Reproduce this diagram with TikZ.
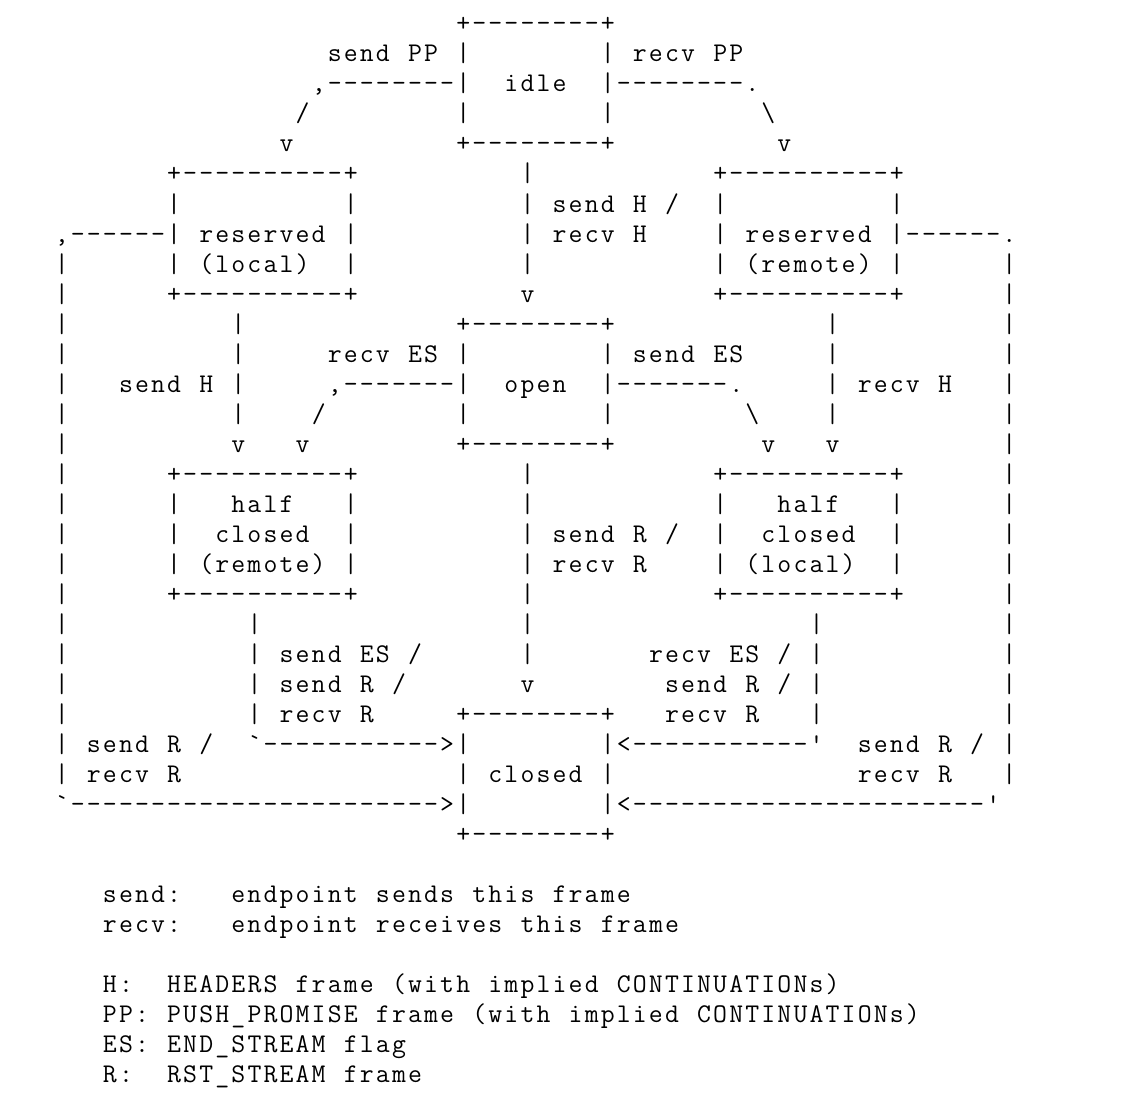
\documentclass[tikz,border=0pt]{standalone}
\newlength\cellw
\setlength\cellw{16.06pt}
\newcommand\GridLoop[1]{\ifx\relax#1\else\makebox[\cellw][c]{#1}\expandafter\GridLoop\fi}
\newcommand\Grid[1]{\GridLoop#1\relax}
\tikzset{
  txt/.style={anchor=base west, inner sep=0pt, outer sep=0pt, text=black,
    font=\ttfamily\fontsize{27}{30}\selectfont}
}
% \Run{name}{column}{line}{characters}
\newcommand\Run[4]{\node[txt] (#1) at ({16.06*#2-10.53},{32+30*#3}) {\Grid{#4}};}
\begin{document}
\begin{tikzpicture}[x=1pt,y=-1pt]
\useasboundingbox[fill=white] (0,0) rectangle (1132,1110);
% line 0-4 : idle
\Run{idleT}{29}{0}{+--------+}
\Run{sendPP}{21}{1}{send~PP}
\Run{idleLa}{29}{1}{|}
\Run{idleRa}{38}{1}{|}
\Run{recvPP}{40}{1}{recv~PP}
\Run{ppL}{20}{2}{,--------|}
\Run{idle}{32}{2}{idle}
\Run{ppR}{38}{2}{|--------.}
\Run{ppLs}{19}{3}{/}
\Run{idleLb}{29}{3}{|}
\Run{idleRb}{38}{3}{|}
\Run{ppRs}{48}{3}{\textbackslash}
\Run{ppLv}{18}{4}{v}
\Run{idleB}{29}{4}{+--------+}
\Run{ppRv}{49}{4}{v}
% line 5-9 : reserved
\Run{rlT}{11}{5}{+----------+}
\Run{ioa}{33}{5}{|}
\Run{rrT}{45}{5}{+----------+}
\Run{rlsa}{11}{6}{|}
\Run{rlsb}{22}{6}{|}
\Run{iob}{33}{6}{|}
\Run{sendHa}{35}{6}{send~H~/}
\Run{rrsa}{45}{6}{|}
\Run{rrsb}{56}{6}{|}
\Run{rlOut}{4}{7}{,------|}
\Run{rlName}{13}{7}{reserved}
\Run{rlsc}{22}{7}{|}
\Run{ioc}{33}{7}{|}
\Run{recvHa}{35}{7}{recv~H}
\Run{rrsc}{45}{7}{|}
\Run{rrName}{47}{7}{reserved}
\Run{rrOut}{56}{7}{|------.}
\Run{lva}{4}{8}{|}
\Run{rlsd}{11}{8}{|}
\Run{rlSub}{13}{8}{(local)}
\Run{rlse}{22}{8}{|}
\Run{iod}{33}{8}{|}
\Run{rrsd}{45}{8}{|}
\Run{rrSub}{47}{8}{(remote)}
\Run{rrse}{56}{8}{|}
\Run{rva}{63}{8}{|}
\Run{lvb}{4}{9}{|}
\Run{rlB}{11}{9}{+----------+}
\Run{iov}{33}{9}{v}
\Run{rrB}{45}{9}{+----------+}
\Run{rvb}{63}{9}{|}
% line 10-14 : open
\Run{lvc}{4}{10}{|}
\Run{shLa}{15}{10}{|}
\Run{openT}{29}{10}{+--------+}
\Run{rhRa}{52}{10}{|}
\Run{rvc}{63}{10}{|}
\Run{lvd}{4}{11}{|}
\Run{shLb}{15}{11}{|}
\Run{recvES}{21}{11}{recv~ES}
\Run{openLa}{29}{11}{|}
\Run{openRa}{38}{11}{|}
\Run{sendES}{40}{11}{send~ES}
\Run{rhRb}{52}{11}{|}
\Run{rvd}{63}{11}{|}
\Run{lve}{4}{12}{|}
\Run{sendHb}{8}{12}{send~H}
\Run{shLc}{15}{12}{|}
\Run{esL}{21}{12}{,-------|}
\Run{open}{32}{12}{open}
\Run{esR}{38}{12}{|-------.}
\Run{rhRc}{52}{12}{|}
\Run{recvHb}{54}{12}{recv~H}
\Run{rve}{63}{12}{|}
\Run{lvf}{4}{13}{|}
\Run{shLd}{15}{13}{|}
\Run{esLs}{20}{13}{/}
\Run{openLb}{29}{13}{|}
\Run{openRb}{38}{13}{|}
\Run{esRs}{47}{13}{\textbackslash}
\Run{rhRd}{52}{13}{|}
\Run{rvf}{63}{13}{|}
\Run{lvg}{4}{14}{|}
\Run{shLv}{15}{14}{v}
\Run{esLv}{19}{14}{v}
\Run{openB}{29}{14}{+--------+}
\Run{esRv}{48}{14}{v}
\Run{rhRv}{52}{14}{v}
\Run{rvg}{63}{14}{|}
% line 15-19 : half closed
\Run{lvh}{4}{15}{|}
\Run{hcrT}{11}{15}{+----------+}
\Run{oca}{33}{15}{|}
\Run{hclT}{45}{15}{+----------+}
\Run{rvh}{63}{15}{|}
\Run{lvi}{4}{16}{|}
\Run{hcrsa}{11}{16}{|}
\Run{hcrNa}{15}{16}{half}
\Run{hcrsb}{22}{16}{|}
\Run{ocb}{33}{16}{|}
\Run{hclsa}{45}{16}{|}
\Run{hclNa}{49}{16}{half}
\Run{hclsb}{56}{16}{|}
\Run{rvi}{63}{16}{|}
\Run{lvj}{4}{17}{|}
\Run{hcrsc}{11}{17}{|}
\Run{hcrNb}{14}{17}{closed}
\Run{hcrsd}{22}{17}{|}
\Run{occ}{33}{17}{|}
\Run{sendRa}{35}{17}{send~R~/}
\Run{hclsc}{45}{17}{|}
\Run{hclNb}{48}{17}{closed}
\Run{hclsd}{56}{17}{|}
\Run{rvj}{63}{17}{|}
\Run{lvk}{4}{18}{|}
\Run{hcrse}{11}{18}{|}
\Run{hcrNc}{13}{18}{(remote)}
\Run{hcrsf}{22}{18}{|}
\Run{ocd}{33}{18}{|}
\Run{recvRa}{35}{18}{recv~R}
\Run{hclse}{45}{18}{|}
\Run{hclNc}{47}{18}{(local)}
\Run{hclsf}{56}{18}{|}
\Run{rvk}{63}{18}{|}
\Run{lvl}{4}{19}{|}
\Run{hcrB}{11}{19}{+----------+}
\Run{oce}{33}{19}{|}
\Run{hclB}{45}{19}{+----------+}
\Run{rvl}{63}{19}{|}
% line 20-27 : closed
\Run{lvm}{4}{20}{|}
\Run{hca}{16}{20}{|}
\Run{ocf}{33}{20}{|}
\Run{hla}{51}{20}{|}
\Run{rvm}{63}{20}{|}
\Run{lvn}{4}{21}{|}
\Run{hcb}{16}{21}{|}
\Run{sendESb}{18}{21}{send~ES~/}
\Run{ocg}{33}{21}{|}
\Run{recvESb}{41}{21}{recv~ES~/}
\Run{hlb}{51}{21}{|}
\Run{rvn}{63}{21}{|}
\Run{lvo}{4}{22}{|}
\Run{hcc}{16}{22}{|}
\Run{sendRb}{18}{22}{send~R~/}
\Run{ocv}{33}{22}{v}
\Run{sendRc}{42}{22}{send~R~/}
\Run{hlc}{51}{22}{|}
\Run{rvo}{63}{22}{|}
\Run{lvp}{4}{23}{|}
\Run{hcd}{16}{23}{|}
\Run{recvRb}{18}{23}{recv~R}
\Run{closedT}{29}{23}{+--------+}
\Run{recvRc}{42}{23}{recv~R}
\Run{hld}{51}{23}{|}
\Run{rvp}{63}{23}{|}
\Run{lvq}{4}{24}{|}
\Run{sendRd}{6}{24}{send~R~/}
\Run{hcArrow}{16}{24}{\textasciigrave----------->|}
\Run{hlArrow}{38}{24}{|<-----------\textquotesingle}
\Run{sendRe}{54}{24}{send~R~/}
\Run{rvq}{63}{24}{|}
\Run{lvr}{4}{25}{|}
\Run{recvRd}{6}{25}{recv~R}
\Run{closedL}{29}{25}{|}
\Run{closed}{31}{25}{closed}
\Run{closedR}{38}{25}{|}
\Run{recvRe}{54}{25}{recv~R}
\Run{rvr}{63}{25}{|}
\Run{lvArrow}{4}{26}{\textasciigrave----------------------->|}
\Run{rvArrow}{38}{26}{|<----------------------\textquotesingle}
\Run{closedB}{29}{27}{+--------+}
% legend
\Run{kSend}{7}{29}{send:}
\Run{dSend}{15}{29}{endpoint~sends~this~frame}
\Run{kRecv}{7}{30}{recv:}
\Run{dRecv}{15}{30}{endpoint~receives~this~frame}
\Run{kH}{7}{32}{H:}
\Run{dH}{11}{32}{HEADERS~frame~(with~implied~CONTINUATIONs)}
\Run{kPP}{7}{33}{PP:}
\Run{dPP}{11}{33}{PUSH\_PROMISE~frame~(with~implied~CONTINUATIONs)}
\Run{kES}{7}{34}{ES:}
\Run{dES}{11}{34}{END\_STREAM~flag}
\Run{kR}{7}{35}{R:}
\Run{dR}{11}{35}{RST\_STREAM~frame}
\end{tikzpicture}
\end{document}
